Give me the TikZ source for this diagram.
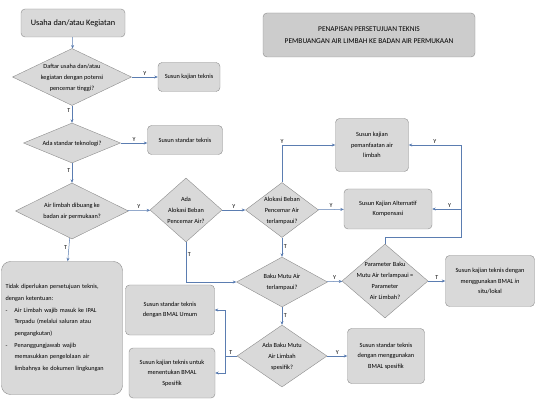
\documentclass[tikz,border=0pt]{standalone}
\usepackage{fontspec}
\setmainfont{Carlito}
\usetikzlibrary{shapes.geometric,arrows.meta}

\definecolor{boxfill}{HTML}{D9D9D9}
\definecolor{boxline}{HTML}{8C8C8C}
\definecolor{titlefill}{HTML}{CCCCCC}
\definecolor{flowline}{HTML}{5B7DB1}

\newcommand{\dashitem}[1]{\par\hangindent=9pt\hangafter=1\noindent\makebox[9pt][l]{-}#1}
% text of a decision, kept out of the diamond's size
\newcommand{\dtext}[1]{\makebox[0pt]{\smash{\raisebox{-0.25em}{\begin{tabular}{@{}c@{}}#1\end{tabular}}}}}

\tikzset{
  stepbox/.style={draw=boxline, fill=boxfill, rounded corners=4pt, align=center,
    inner sep=1pt, font=\fontsize{6.3}{10.5}\selectfont},
  decision/.style={draw=boxline, fill=boxfill, diamond, inner sep=0pt,
    font=\fontsize{6.3}{11}\selectfont},
  flow/.style={draw=flowline, line width=0.5pt, -{Stealth[length=3.5pt,width=3pt]}},
  yt/.style={font=\fontsize{6}{7}\selectfont, inner sep=1.5pt}
}

\begin{document}
\begin{tikzpicture}[x=1pt,y=-1pt]
\useasboundingbox (0,0) rectangle (539,409);

\node[stepbox, minimum width=104, minimum height=28, font=\fontsize{8.3}{10}\selectfont] (start) at (73,23) {Usaha dan/atau Kegiatan};
\node[stepbox, fill=titlefill, minimum width=212, minimum height=44, font=\fontsize{7.4}{12}\selectfont] (title) at (369,35) {PENAPISAN PERSETUJUAN TEKNIS\\PEMBUANGAN AIR LIMBAH KE BADAN AIR PERMUKAAN};

\node[decision, minimum width=119, minimum height=57] (d1) at (72,77) {\dtext{Daftar usaha dan/atau\\kegiatan dengan potensi\\pencemar tinggi?}};
\node[stepbox, minimum width=62, minimum height=29] (kajian) at (189,77) {Susun kajian teknis};
\node[decision, minimum width=97, minimum height=40] (d2) at (72,143) {\dtext{Ada standar teknologi?}};
\node[stepbox, minimum width=75, minimum height=29] (standar) at (185,140) {Susun standar teknis};
\node[decision, minimum width=113, minimum height=56] (d3) at (72,211) {\dtext{Air limbah dibuang ke\\badan air permukaan?}};
\node[decision, minimum width=72, minimum height=64] (d4) at (186,210) {\dtext{Ada\\Alokasi Beban\\Pencemar Air?}};
\node[decision, minimum width=73, minimum height=55] (d5) at (282,210) {\dtext{Alokasi Beban\\Pencemar Air\\terlampaui?}};
\node[stepbox, minimum width=73, minimum height=53] (manfaat) at (372,145) {Susun kajian\\pemanfaatan air\\limbah};
\node[stepbox, minimum width=88, minimum height=40] (kompensasi) at (388,209) {Susun Kajian Alternatif\\Kompensasi};
\node[decision, minimum width=86, minimum height=74] (d6) at (385,281) {\dtext{Parameter Baku\\Mutu Air terlampaui =\\Parameter\\Air Limbah?}};
\node[stepbox, minimum width=89, minimum height=51] (insitu) at (490,281) {Susun kajian teknis dengan\\menggunakan BMAL \emph{in}\\situ/lokal};
\node[decision, minimum width=91, minimum height=50] (d7) at (282,282) {\dtext{Baku Mutu Air\\terlampaui?}};
\node[decision, minimum width=90, minimum height=62] (d8) at (282,356) {\dtext{Ada Baku Mutu\\Air Limbah\\spesifik?}};
\node[stepbox, minimum width=77, minimum height=55] (spesifik) at (386,356) {Susun standar teknis\\dengan menggunakan\\BMAL spesifik};
\node[stepbox, minimum width=89, minimum height=50] (umum) at (170,310) {Susun standar teknis\\dengan BMAL Umum};
\node[stepbox, minimum width=86, minimum height=50] (bmalsp) at (172,373) {Susun kajian teknis untuk\\menentukan BMAL\\Spesifik};
\node[stepbox, rounded corners=9pt, minimum width=121, minimum height=133, text width=113, align=left, font=\fontsize{6.2}{11.7}\selectfont] (tidak) at (62,328) {Tidak diperlukan persetujuan teknis,\\dengan ketentuan:
\dashitem{Air Limbah wajib masuk ke IPAL\newline Terpadu (melalui saluran atau\newline pengangkutan)}
\dashitem{Penanggungjawab wajib\newline memasukkan pengelolaan air\newline limbahnya ke dokumen lingkungan}\par};

\coordinate (r1) at (461,237);
\coordinate (s1) at (225,356);

% alur utama
\draw[flow] (start) -- (d1);
\draw[flow] (d1) -- node[yt, above] {Y} (kajian);
\draw[flow] (d1) -- node[yt, left, pos=0.3] {T} (d2);
\draw[flow] (d2) -- node[yt, above] {Y} (d2.east -| standar.west);
\draw[flow] (d2) -- node[yt, left, pos=0.4] {T} (d3);
\draw[flow] (d3) -- node[yt, left, pos=0.4] {T} (tidak);
\draw[flow] (d3) -- node[yt, above] {Y} (d4);
\draw[flow] (d4) -- node[yt, above] {Y} (d5);
\draw[flow] (d4.south) |- node[yt, right, pos=0.15] {T} (d7.west);
\draw[flow] (d5.north) |- node[yt, above, pos=0.75] {Y} (d5.north |- manfaat.west) -- (manfaat.west);
\draw[flow] (d5) -- node[yt, above] {Y} (kompensasi);
\draw[flow] (d5) -- node[yt, right, pos=0.45] {T} (d7);
\draw[flow] (d7) -- node[yt, above] {Y} (d6);
\draw[flow] (d7) -- node[yt, right, pos=0.45] {T} (d8);
\draw[flow] (d6) -- node[yt, above] {T} (insitu);
% kembali ke kajian pemanfaatan dan kompensasi
\draw[flow] (d6.north) |- (r1) |- node[yt, above, pos=0.75] {Y} (manfaat.east);
\draw[flow] (r1 |- kompensasi.east) -- node[yt, above, pos=0.4] {Y} (kompensasi.east);
\draw[flow] (d8) -- node[yt, above] {Y} (spesifik);
\draw[draw=flowline, line width=0.5pt] (d8.west) -- node[yt, above] {T} (s1);
\draw[flow] (s1) |- (umum.east);
\draw[flow] (s1) |- (bmalsp.east);
\end{tikzpicture}
\end{document}
